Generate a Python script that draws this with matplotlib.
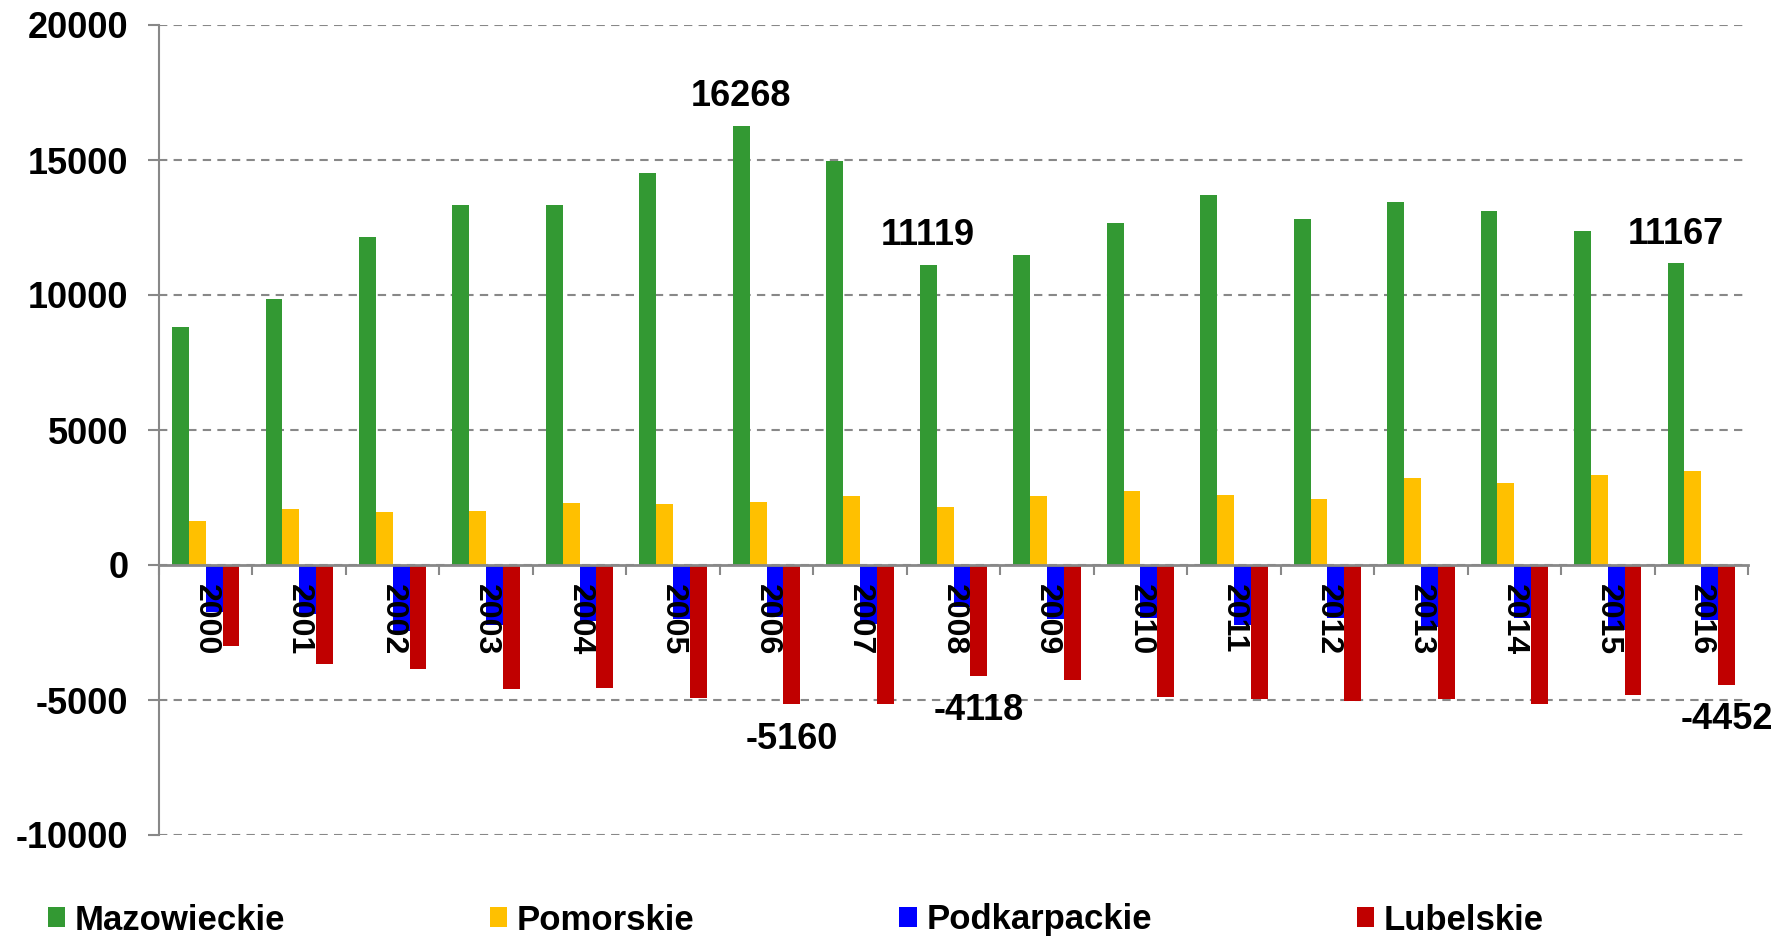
import numpy as np
import matplotlib.pyplot as plt
from matplotlib.ticker import FixedLocator

plt.rcParams['font.family'] = ['Liberation Sans', 'DejaVu Sans']
plt.rcParams['font.weight'] = 'bold'
plt.rcParams['axes.unicode_minus'] = False

years = [str(y) for y in range(2000, 2017)]
mazowieckie = [8810, 9870, 12160, 13330, 13330, 14520, 16268, 14945, 11119, 11466,
               12673, 13694, 12799, 13452, 13126, 12372, 11167]
pomorskie = [1633, 2060, 1975, 2004, 2301, 2260, 2346, 2572, 2146, 2572,
             2743, 2599, 2431, 3226, 3040, 3326, 3467]
podkarpackie = [-1731, -1817, -2460, -2213, -2089, -2015, -1928, -2175, -1545, -2002,
                -1978, -2225, -1953, -2287, -1953, -2410, -2052]
lubelskie = [-2992, -3671, -3857, -4598, -4561, -4920, -5160, -5142, -4118, -4252,
             -4883, -4981, -5019, -4969, -5130, -4821, -4452]

series = [('Mazowieckie', mazowieckie, '#339933'),
          ('Pomorskie', pomorskie, '#FFC000'),
          ('Podkarpackie', podkarpackie, '#0000FF'),
          ('Lubelskie', lubelskie, '#C00000')]

# which bars get a value label: (series index, year)
labelled = [(0, '2006'), (0, '2008'), (0, '2016'),
            (3, '2006'), (3, '2008'), (3, '2016')]

fig = plt.figure(figsize=(17.83, 9.39), dpi=100)
ax = fig.add_axes([159 / 1783, 1 - 835 / 939, (1748 - 159) / 1783, (835 - 25) / 939])

x = np.arange(len(years))
w = 0.18
for i, (name, vals, col) in enumerate(series):
    ax.bar(x + (i - 1.5) * w, vals, w, color=col, label=name, zorder=3)

for si, yr in labelled:
    idx = years.index(yr)
    v = series[si][1][idx]
    off = 21 if v > 0 else -25
    ax.annotate(str(v), (x[idx] + (si - 1.5) * w, v), xytext=(0, off),
                textcoords='offset points', ha='center', va='center',
                fontsize=26, fontweight='bold', annotation_clip=False)

ax.set_xlim(-0.5, len(years) - 0.5)
ax.set_ylim(-10000, 20000)
ax.set_yticks(range(-10000, 20001, 5000))
ax.yaxis.grid(True, linestyle=(0, (4, 3)), color='#888888', linewidth=1.5)
ax.yaxis.set_zorder(1)
ax.tick_params(axis='y', labelsize=26, length=8, width=1.5, color='#888888', pad=14)

for s in ['top', 'right']:
    ax.spines[s].set_visible(False)
ax.spines['left'].set_color('#888888')
ax.spines['left'].set_linewidth(1.5)
ax.spines['bottom'].set_position(('data', 0))
ax.spines['bottom'].set_color('#888888')
ax.spines['bottom'].set_linewidth(2)
ax.spines['bottom'].set_zorder(4)

# year labels sit on top of the negative bars
ax.set_xticks(x)
ax.set_xticklabels(years, rotation=270, fontsize=23, fontweight='bold')
ax.tick_params(axis='x', which='major', length=0, pad=14)
ax.xaxis.set_minor_locator(FixedLocator(np.arange(-0.5, len(years), 1.0)))
ax.tick_params(axis='x', which='minor', length=7, width=1.5, color='#888888', direction='out')
ax.xaxis.set_zorder(5)

fig.legend(loc='center left', bbox_to_anchor=(48 / 1783, 1 - 920 / 939), ncol=4,
           frameon=False, fontsize=25, handlelength=0.5, handleheight=0.5,
           handletextpad=0.27, columnspacing=5.9, borderpad=0, borderaxespad=0)

fig.savefig('out.png', dpi=100)
